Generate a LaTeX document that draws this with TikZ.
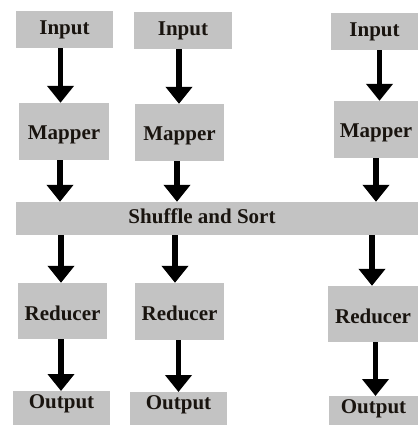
\documentclass[tikz,border=0pt]{standalone}
\usepackage{fontspec}
\setmainfont{Liberation Serif}
\usetikzlibrary{arrows.meta}
\definecolor{boxgray}{RGB}{195,195,195}
\definecolor{txt}{RGB}{25,20,15}
\tikzset{
  box/.style={fill=boxgray, draw=none, inner sep=0pt, text=txt,
    font=\fontsize{21pt}{25pt}\selectfont\bfseries,
    text height=17pt, text depth=4pt},
  inbox/.style={box, minimum height=37pt, text height=14pt, text depth=4pt},
  mapbox/.style={box, minimum height=57pt, text height=19pt, text depth=4pt},
  redbox/.style={box, text height=22pt, text depth=4pt},
  outbox/.style={box, anchor=north, minimum height=50pt,
    text height=4pt, text depth=20pt},
  arr/.style={line width=5.6pt, -{Triangle[width=26pt,length=17pt]}, black}
}
\begin{document}
\begin{tikzpicture}[x=1pt,y=-1pt]
\useasboundingbox (0,0) rectangle (418,425);
% inputs
\node[inbox, minimum width=97pt] (in1) at (64.5,29.5) {Input};
\node[inbox, minimum width=98pt] (in2) at (183,30.5) {Input};
\node[inbox, minimum width=87pt] (in3) at (374.5,31.5) {Input};
% mappers
\node[mapbox, minimum width=90pt] (map1) at (64,131.5) {Mapper};
\node[mapbox, minimum width=89pt] (map2) at (179.5,132.5) {Mapper};
\node[mapbox, minimum width=84pt] (map3) at (376,129.5) {Mapper};
% shuffle
\node[box, minimum width=402pt, minimum height=33pt, text height=14pt, text depth=4pt] (shuf) at (217,218.5) {\hspace*{-30pt}Shuffle and Sort};
% reducers
\node[redbox, minimum width=89pt, minimum height=56pt] (red1) at (62.5,311) {Reducer};
\node[redbox, minimum width=89pt, minimum height=57pt] (red2) at (179.5,311.5) {Reducer};
\node[redbox, minimum width=90pt, minimum height=56pt] (red3) at (373,314) {Reducer};
% outputs
\node[outbox, minimum width=97pt] (out1) at (61.5,391) {Output};
\node[outbox, minimum width=97pt] (out2) at (178.5,392) {Output};
\node[outbox, minimum width=89pt, text depth=19pt] (out3) at (373.5,396) {Output};
% arrows column 1
\draw[arr] ([xshift=-4pt]in1.south) -- ([xshift=-4pt]in1.south |- map1.north);
\draw[arr] ([xshift=-4pt]map1.south) -- ([xshift=-4pt]map1.south |- shuf.north);
\draw[arr] ([xshift=-1.5pt]red1.north |- shuf.south) -- ([xshift=-1.5pt]red1.north);
\draw[arr] ([xshift=-1.5pt]red1.south) -- ([xshift=-1.5pt]red1.south |- out1.north);
% arrows column 2
\draw[arr] ([xshift=-4pt]in2.south) -- ([xshift=-4pt]in2.south |- map2.north);
\draw[arr] ([xshift=-2.5pt]map2.south) -- ([xshift=-2.5pt]map2.south |- shuf.north);
\draw[arr] ([xshift=-4.5pt]red2.north |- shuf.south) -- ([xshift=-4.5pt]red2.north);
\draw[arr] ([xshift=-1pt]red2.south) -- ([xshift=-1pt]red2.south |- out2.north);
% arrows column 3
\draw[arr] ([xshift=5pt]in3.south) -- ([xshift=5pt]in3.south |- map3.north);
\draw[arr] (map3.south) -- (map3.south |- shuf.north);
\draw[arr] ([xshift=-1pt]red3.north |- shuf.south) -- ([xshift=-1pt]red3.north);
\draw[arr] ([xshift=2.5pt]red3.south) -- ([xshift=2.5pt]red3.south |- out3.north);
\end{tikzpicture}
\end{document}
